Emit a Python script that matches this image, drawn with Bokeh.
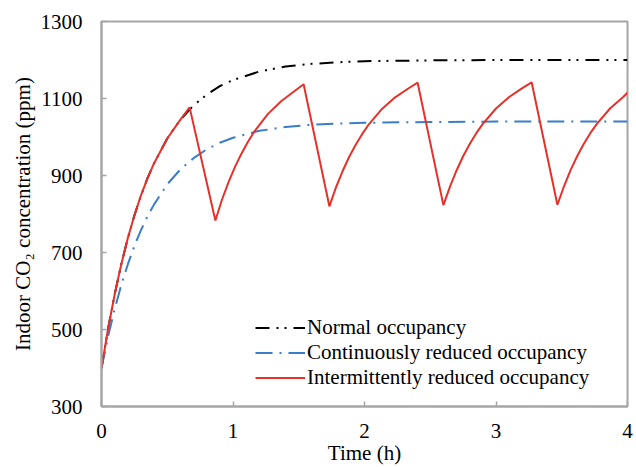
from bokeh.plotting import figure
from bokeh.models import FixedTicker, Legend, LegendItem
from bokeh.embed import file_html
from bokeh.resources import INLINE

# Time (h) and CO2 concentration (ppm)
t_normal = [0, 0.05, 0.1, 0.15, 0.2, 0.25, 0.3, 0.35, 0.4, 0.5, 0.6, 0.7, 0.8, 0.9, 1.0,
            1.2, 1.4, 1.6, 1.8, 2.0, 2.5, 3.0, 3.5, 4.0]
c_normal = [400, 502, 591, 669, 737, 796, 848, 893, 932, 996, 1045, 1082, 1110, 1132, 1148,
            1170, 1183, 1190, 1194, 1197, 1199, 1200, 1200, 1200]

t_cont = [0, 0.05, 0.1, 0.15, 0.2, 0.25, 0.3, 0.35, 0.4, 0.5, 0.6, 0.7, 0.8, 0.9, 1.0,
          1.2, 1.4, 1.6, 1.8, 2.0, 2.5, 3.0, 3.5, 4.0]
c_cont = [400, 482, 553, 615, 669, 717, 758, 794, 825, 877, 916, 945, 968, 985, 998,
          1016, 1026, 1032, 1035, 1037, 1039, 1040, 1040, 1040]

t_inter = [0, 0.05, 0.1, 0.15, 0.2, 0.25, 0.3, 0.35, 0.4, 0.5, 0.6, 0.67, 0.866,
           0.916, 0.966, 1.016, 1.066, 1.116, 1.166, 1.266, 1.366, 1.466, 1.537, 1.733,
           1.783, 1.833, 1.883, 1.933, 1.983, 2.033, 2.133, 2.233, 2.333, 2.404, 2.600,
           2.65, 2.70, 2.75, 2.80, 2.85, 2.90, 3.00, 3.10, 3.20, 3.271, 3.467,
           3.517, 3.567, 3.617, 3.667, 3.717, 3.767, 3.867, 3.967, 4.0]
c_inter = [400, 502, 591, 669, 737, 796, 848, 893, 932, 996, 1045, 1077, 783,
           837, 883, 923, 958, 989, 1016, 1060, 1093, 1119, 1137, 820,
           869, 911, 948, 980, 1008, 1033, 1073, 1103, 1126, 1141, 823,
           871, 913, 950, 982, 1010, 1034, 1074, 1104, 1127, 1142, 824,
           872, 914, 950, 982, 1010, 1034, 1074, 1104, 1115]

x_ticks = [0, 1, 2, 3, 4]
y_ticks = [300, 500, 700, 900, 1100, 1300]
x_title = "Time (h)"
y_title = "Indoor CO\u2082 concentration (ppm)"
series_names = ["Normal occupancy", "Continuously reduced occupancy",
                "Intermittently reduced occupancy"]

GRAY = "#a6a6a6"
FONT = "Times"

p = figure(width=636, height=467, x_range=(0, 4), y_range=(300, 1300),
           output_backend="svg", toolbar_location=None,
           min_border_left=101, min_border_right=9, min_border_top=21, min_border_bottom=60)

p.xgrid.visible = False
p.ygrid.visible = False
p.outline_line_color = GRAY
p.outline_line_width = 2

for ax in (p.xaxis[0], p.yaxis[0]):
    ax.axis_line_color = GRAY
    ax.axis_line_width = 2
    ax.major_tick_line_color = GRAY
    ax.major_tick_line_width = 1.5
    ax.major_tick_in = 5
    ax.major_tick_out = 0
    ax.minor_tick_line_color = None
    ax.major_label_text_font = FONT
    ax.major_label_text_font_size = "21px"
    ax.major_label_text_color = "black"
    ax.axis_label_text_font = FONT
    ax.axis_label_text_font_size = "21px"
    ax.axis_label_text_font_style = "normal"
    ax.axis_label_text_color = "black"

p.xaxis.ticker = FixedTicker(ticks=x_ticks)
p.yaxis.ticker = FixedTicker(ticks=y_ticks)
p.xaxis.major_label_standoff = 17
p.yaxis.major_label_standoff = 19
p.xaxis.axis_label = x_title
p.xaxis.axis_label_standoff = 0
p.yaxis.axis_label = y_title
p.yaxis.axis_label_standoff = 3

r1 = p.line(t_normal, c_normal, line_color="black", line_width=2, line_dash="14 7 2 6 2 7")
r2 = p.line(t_cont, c_cont, line_color="#3a7dc8", line_width=2, line_dash="17 7 2 7")
r3 = p.line(t_inter, c_inter, line_color="#e8302a", line_width=2)

legend = Legend(items=[
    LegendItem(label=series_names[0], renderers=[r1]),
    LegendItem(label=series_names[1], renderers=[r2]),
    LegendItem(label=series_names[2], renderers=[r3]),
], location=(154, 16))
legend.label_text_font = FONT
legend.label_text_font_size = "21px"
legend.label_text_color = "black"
legend.glyph_width = 50
legend.glyph_height = 23
legend.label_height = 23
legend.label_standoff = 2
legend.spacing = 0
legend.padding = 0
legend.margin = 0
legend.border_line_color = None
legend.background_fill_alpha = 0
p.add_layout(legend)

open("out.html", "w").write(file_html(p, INLINE))
